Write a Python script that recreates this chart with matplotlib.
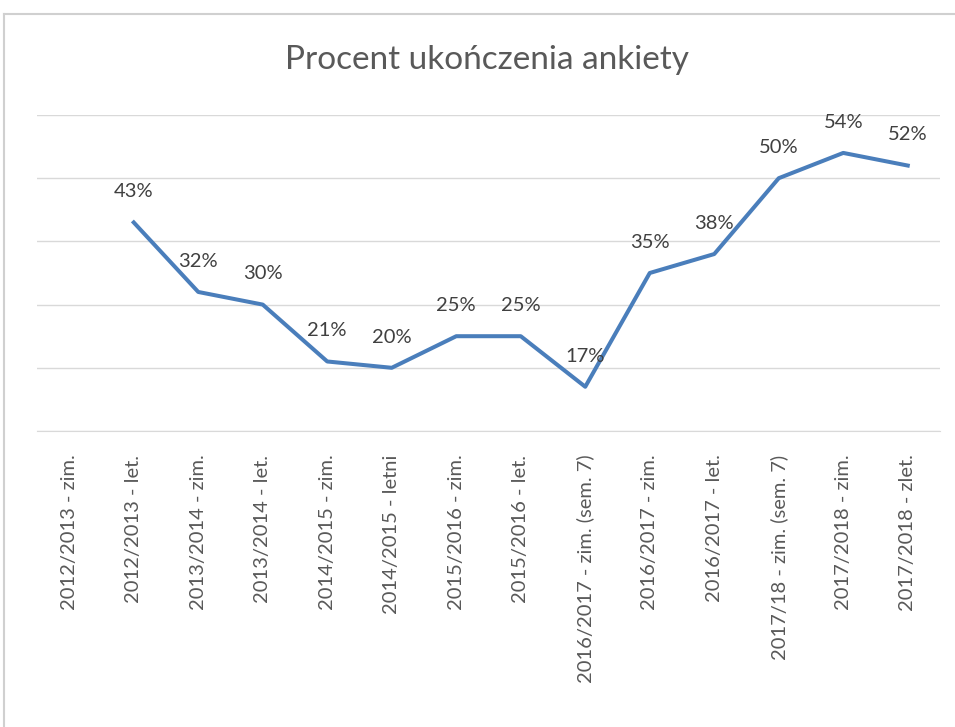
import matplotlib
matplotlib.use("Agg")
import matplotlib.pyplot as plt
import numpy as np
from matplotlib.lines import Line2D

categories = [
    "2012/2013 - zim.", "2012/2013 - let.", "2013/2014 - zim.", "2013/2014 - let.",
    "2014/2015 - zim.", "2014/2015 - letni", "2015/2016 - zim.", "2015/2016 - let.",
    "2016/2017 - zim. (sem. 7)", "2016/2017 - zim.", "2016/2017 - let.",
    "2017/18 - zim. (sem. 7)", "2017/2018 - zim.", "2017/2018 - zlet.",
]
completion = [np.nan, 0.43, 0.32, 0.30, 0.21, 0.20, 0.25, 0.25, 0.17, 0.35, 0.38, 0.50, 0.54, 0.52]
title = "Procent ukończenia ankiety"

plt.rcParams["font.family"] = ["Lato", "DejaVu Sans"]

W, H = 955, 727
fig = plt.figure(figsize=(W / 100, H / 100), dpi=100)
ax = fig.add_axes([37 / W, 1 - 431 / H, (940 - 37) / W, (431 - 115) / H])

x = np.arange(len(categories))
ax.plot(x, completion, color="#4A7EBB", lw=2.9, solid_joinstyle="round", zorder=3)
for xi, v in zip(x, completion):
    if np.isnan(v):
        continue
    ax.annotate(f"{v:.0%}", (xi, v), xytext=(0, 16), textcoords="offset points",
                ha="center", va="bottom", fontsize=14.5, color="#404040", zorder=4)

ax.set_xlim(-0.5, len(categories) - 0.5)
ax.set_ylim(0.10, 0.60)
ax.set_yticks(np.arange(0.1, 0.61, 0.1))
ax.yaxis.grid(True, color="#D9D9D9", lw=1)
ax.set_axisbelow(True)
ax.tick_params(axis="y", left=False, labelleft=False)
ax.tick_params(axis="x", length=0, pad=17)
ax.set_xticks(x)
ax.set_xticklabels(categories, rotation=90, va="top", ha="center",
                   fontsize=14.5, color="#595959")
for side in ["top", "right", "left"]:
    ax.spines[side].set_visible(False)
ax.spines["bottom"].set_color("#D9D9D9")

fig.text(487 / W, 1 - 60 / H, title, ha="center", va="center",
         fontsize=24, color="#595959")

# chart frame (cut off at right and bottom)
fig.add_artist(Line2D([4 / W, 4 / W], [0, 1 - 14 / H], color="#D0D0D0", lw=1.5,
                      transform=fig.transFigure))
fig.add_artist(Line2D([4 / W, 1], [1 - 14 / H, 1 - 14 / H], color="#D0D0D0", lw=1.5,
                      transform=fig.transFigure))

fig.savefig("out.png", dpi=100, facecolor="white")
